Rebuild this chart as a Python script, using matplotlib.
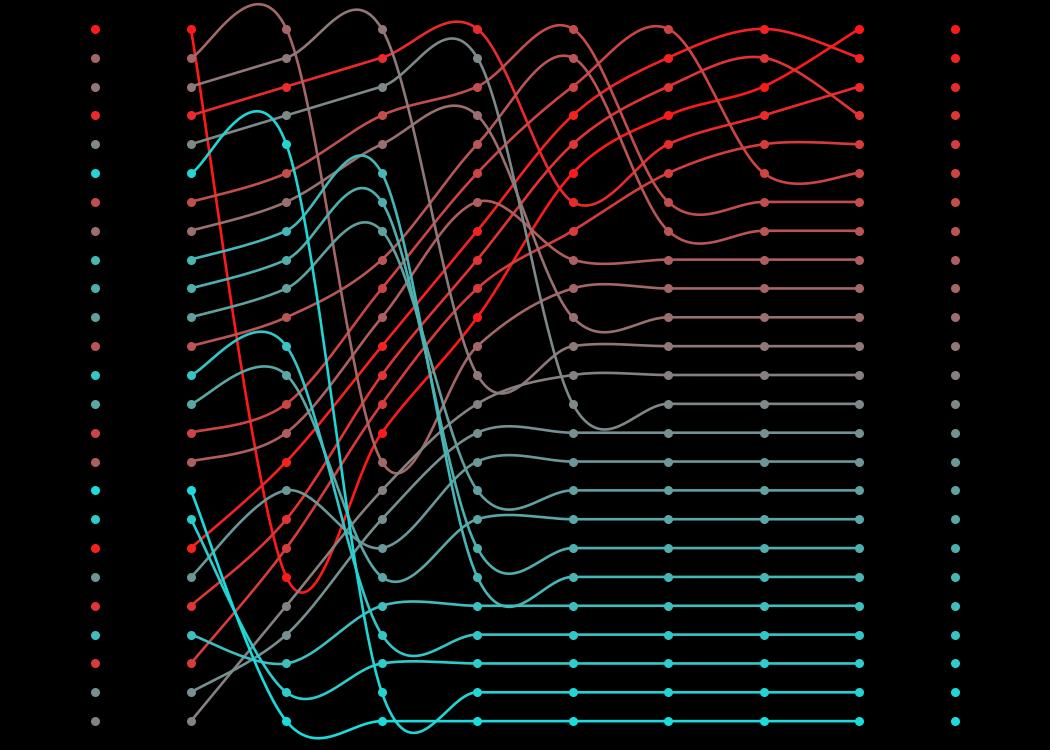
import numpy as np
import matplotlib
matplotlib.use("Agg")
import matplotlib.pyplot as plt
from matplotlib.colors import LinearSegmentedColormap

# Order of items (top row first) at each of the 8 connected columns
step1 = [0, 9, 11, 2, 13, 23, 6, 10, 19, 18, 16, 7, 21, 17, 5, 8, 24, 22, 1, 15, 3, 20, 4, 14, 12]
step2 = [9, 11, 2, 13, 23, 6, 10, 19, 18, 16, 7, 21, 17, 5, 8, 1, 15, 3, 4, 0, 12, 14, 20, 22, 24]
step3 = [11, 2, 13, 6, 10, 19, 18, 16, 7, 5, 8, 1, 3, 4, 0, 9, 12, 14, 15, 17, 20, 21, 22, 23, 24]
step4 = [2, 13, 6, 10, 7, 5, 8, 1, 3, 4, 0, 9, 11, 12, 14, 15, 16, 17, 18, 19, 20, 21, 22, 23, 24]
step5 = [6, 7, 5, 1, 3, 0, 2, 4, 8, 9, 10, 11, 12, 13, 14, 15, 16, 17, 18, 19, 20, 21, 22, 23, 24]
step6 = [5, 1, 3, 0, 2, 4, 6, 7, 8, 9, 10, 11, 12, 13, 14, 15, 16, 17, 18, 19, 20, 21, 22, 23, 24]
step7 = [1, 3, 0, 2, 4, 5, 6, 7, 8, 9, 10, 11, 12, 13, 14, 15, 16, 17, 18, 19, 20, 21, 22, 23, 24]
step8 = [0, 1, 2, 3, 4, 5, 6, 7, 8, 9, 10, 11, 12, 13, 14, 15, 16, 17, 18, 19, 20, 21, 22, 23, 24]
steps = [step1, step2, step3, step4, step5, step6, step7, step8]

n_items = len(step8)
cmap = LinearSegmentedColormap.from_list("rc", ["#ff1a1a", "#868080", "#1adcdc"])
colors = [cmap(i / (n_items - 1)) for i in range(n_items)]


def cardinal(px, py, n=40):
    px = np.asarray(px, float)
    py = np.asarray(py, float)
    P = np.stack([px, py], axis=1)
    Pe = np.vstack([P[0], P, P[-1]])
    T = (Pe[2:] - Pe[:-2]) / 2.0
    out = []
    t = np.linspace(0, 1, n)[:, None]
    h00 = 2 * t**3 - 3 * t**2 + 1
    h10 = t**3 - 2 * t**2 + t
    h01 = -2 * t**3 + 3 * t**2
    h11 = t**3 - t**2
    for i in range(len(P) - 1):
        seg = h00 * P[i] + h10 * T[i] + h01 * P[i + 1] + h11 * T[i + 1]
        out.append(seg if i == 0 else seg[1:])
    out = np.vstack(out)
    return out[:, 0], out[:, 1]


fig = plt.figure(figsize=(10.5, 7.5), dpi=100, facecolor="black")
ax = fig.add_axes([0, 0, 1, 1])
ax.set_facecolor("black")
ax.set_xlim(-1, 10)
ax.set_ylim(25, -1)
ax.axis("off")

cols = np.arange(1, len(steps) + 1)
for item in range(n_items):
    rows = [s.index(item) for s in steps]
    cx, cy = cardinal(cols, rows)
    ax.plot(cx, cy, color=colors[item], lw=1.9, solid_capstyle="round", zorder=2)

for k, s in enumerate(steps):
    for r, item in enumerate(s):
        ax.plot(k + 1, r, "o", color=colors[item], ms=6.5, mew=0, zorder=3)

for r, item in enumerate(step1):
    ax.plot(0, r, "o", color=colors[item], ms=6.5, mew=0, zorder=3)
for r, item in enumerate(step8):
    ax.plot(9, r, "o", color=colors[item], ms=6.5, mew=0, zorder=3)

fig.savefig("out.png", dpi=100, facecolor="black")
